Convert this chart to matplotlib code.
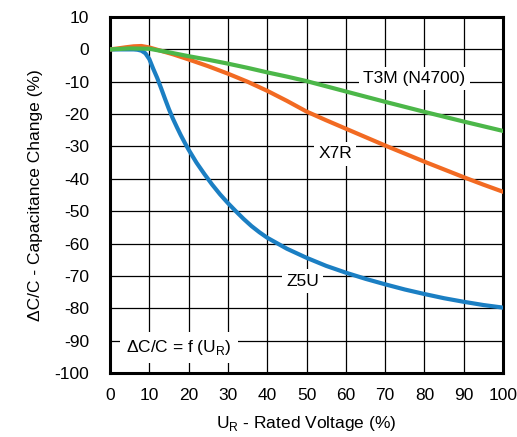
import matplotlib.pyplot as plt

plt.rcParams['font.family'] = ['Liberation Sans', 'DejaVu Sans']
plt.rcParams['mathtext.fontset'] = 'custom'
plt.rcParams['mathtext.rm'] = 'Liberation Sans'
plt.rcParams['axes.unicode_minus'] = False

# values (x in % rated voltage, y in % capacitance change)
z5u_x = [0, 6, 7, 8, 9, 10, 11, 12, 13, 14, 15, 16, 17, 18, 19, 20, 22, 24, 26, 28, 30,
         32, 34, 36, 38, 40, 45, 50, 55, 60, 65, 70, 75, 80, 85, 90, 95, 100]
z5u_y = [0, 0, -0.1, -0.4, -1.2, -3, -6, -8.8, -12, -15.3, -18.5, -21.4, -24, -26.5, -28.8, -31,
         -35, -38.5, -41.8, -44.8, -47.5, -50, -52.4, -54.6, -56.5, -58.2, -61.6, -64.4, -66.9,
         -69, -70.9, -72.6, -74.2, -75.6, -76.9, -78, -79, -79.8]

x7r_x = [0, 2, 4, 6, 8, 10, 12, 14, 16, 18, 20, 25, 30, 35, 40, 45, 50, 55, 60, 65, 70, 75,
         80, 85, 90, 95, 100]
x7r_y = [0, 0.3, 0.65, 0.95, 1.05, 0.6, -0.1, -0.8, -1.5, -2.3, -3.1, -5.2, -7.5, -10, -12.8,
         -15.9, -19.2, -21.9, -24.5, -27.1, -29.7, -32.2, -34.7, -37.1, -39.5, -41.8, -44]

t3m_x = [0, 5, 10, 15, 20, 25, 30, 35, 40, 45, 50, 60, 70, 80, 90, 100]
t3m_y = [0, 0.3, 0.2, -0.9, -2.1, -3.2, -4.4, -5.7, -7.1, -8.4, -9.8, -13, -16.2, -19.3, -22.3, -25.2]

x_ticks = list(range(0, 101, 10))
y_ticks = list(range(-100, 11, 10))

fig = plt.figure(figsize=(5.17, 4.37), dpi=100)
ax = fig.add_axes([0.2128, 0.1465, 0.7602, 0.8145])

ax.plot(z5u_x, z5u_y, color='#1b7fc3', lw=3, solid_joinstyle='round', zorder=3)
ax.plot(x7r_x, x7r_y, color='#f26a22', lw=3, solid_joinstyle='round', zorder=3)
ax.plot(t3m_x, t3m_y, color='#4cb749', lw=3, solid_joinstyle='round', zorder=3)

ax.set_xlim(0, 100)
ax.set_ylim(-100, 10)
ax.set_xticks(x_ticks)
ax.set_yticks(y_ticks)
ax.tick_params(length=0, labelsize=12.5, pad=11)
ax.tick_params(axis='y', pad=15)
ax.grid(True, color='black', lw=0.9)
ax.set_axisbelow(True)
for s in ax.spines.values():
    s.set_linewidth(2.2)

box = dict(boxstyle='square,pad=0.25', fc='white', ec='none')
ax.text(77.4, -9.0, 'T3M (N4700)', fontsize=12.5, ha='center', va='center', bbox=box, zorder=4)
ax.text(57.3, -32.3, 'X7R', fontsize=12.5, ha='center', va='center', bbox=box, zorder=4)
ax.text(49, -71.6, 'Z5U', fontsize=12.5, ha='center', va='center', bbox=box, zorder=4)
ax.text(17.6, -92.2, r'ΔC/C = f (U$_\mathregular{R}$)', fontsize=12.5, ha='center', va='center',
        bbox=dict(boxstyle='square,pad=0.35', fc='white', ec='none'), zorder=4)

ax.set_xlabel(r'U$_\mathregular{R}$ - Rated Voltage (%)', fontsize=12.5, labelpad=8)
ax.set_ylabel('ΔC/C - Capacitance Change (%)', fontsize=12.5, labelpad=8)

fig.savefig('out.png', dpi=100)
